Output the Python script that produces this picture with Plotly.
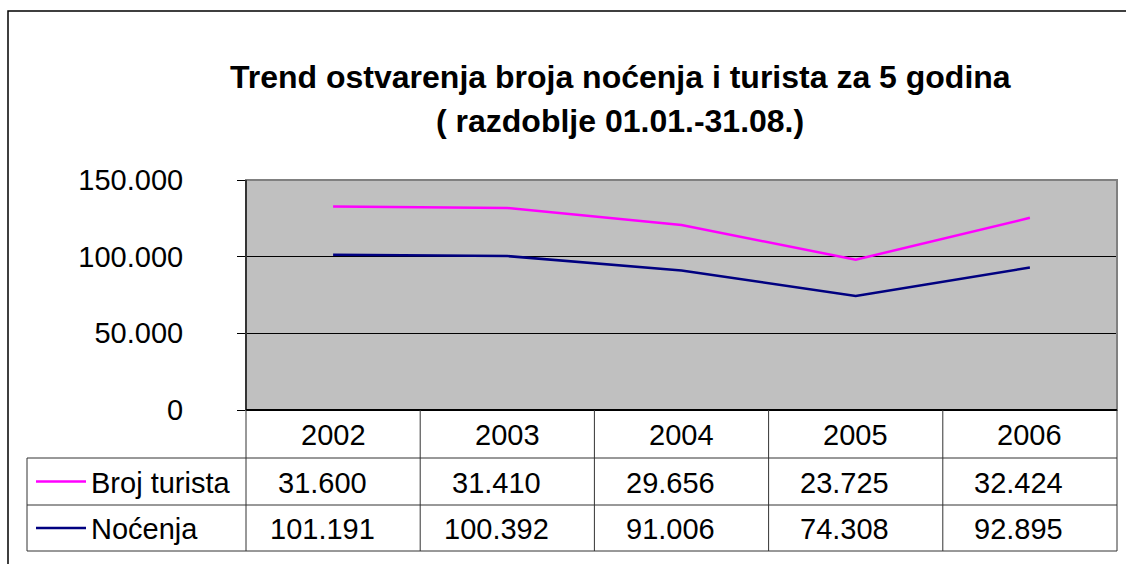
import plotly.graph_objects as go

years = ["2002", "2003", "2004", "2005", "2006"]
nocenja = [101191, 100392, 91006, 74308, 92895]
turisti = [31600, 31410, 29656, 23725, 32424]
series_names = ["Broj turista", "Noćenja"]
title_lines = ["Trend ostvarenja broja noćenja i turista za 5 godina", "( razdoblje 01.01.-31.08.)"]

W, H = 1126, 564
def px(x):
    return x / W
def py(y):
    return 1 - y / H

PL, PR, PT, PB = 246, 1117, 180, 410
FONT = "Liberation Sans, Arial, sans-serif"
PINK = "#FF00FF"
NAVY = "#000080"
FS = 29

fig = go.Figure()
fig.add_trace(go.Scatter(x=years, y=nocenja, name=series_names[1], mode="lines",
                         stackgroup="s", fill="none", line=dict(color=NAVY, width=2.5)))
fig.add_trace(go.Scatter(x=years, y=turisti, name=series_names[0], mode="lines",
                         stackgroup="s", fill="none", line=dict(color=PINK, width=2.5)))

fig.update_layout(
    width=W, height=H, autosize=False,
    margin=dict(l=0, r=0, t=0, b=0, pad=0, autoexpand=False),
    paper_bgcolor="white", plot_bgcolor="#C0C0C0",
    showlegend=False,
    separators=",.",
    font=dict(family=FONT, color="black"),
    xaxis=dict(domain=[px(PL), px(PR)], range=[-0.5, 4.5], type="category",
               showticklabels=False, showgrid=False, zeroline=False, ticks="",
               automargin=False),
    yaxis=dict(domain=[py(PB), py(PT)], range=[0, 150000], dtick=50000,
               tickformat=",d", showgrid=True, gridcolor="black", gridwidth=1,
               zeroline=False, ticks="outside", ticklen=8, tickcolor="black",
               tickfont=dict(size=FS, family=FONT, color="black"),
               ticklabelstandoff=48, showline=False, automargin=False),
)

shapes = []
# outer chart border
shapes.append(dict(type="rect", xref="paper", yref="paper", x0=px(8), x1=px(1140),
                   y0=py(580), y1=py(11), line=dict(color="black", width=1.5)))
# plot area border (gray)
shapes.append(dict(type="rect", xref="paper", yref="paper", x0=px(PL), x1=px(PR),
                   y0=py(PB), y1=py(PT), line=dict(color="#808080", width=2)))
# left axis line black
shapes.append(dict(type="line", xref="paper", yref="paper", x0=px(PL), x1=px(PL),
                   y0=py(PB), y1=py(PT), line=dict(color="black", width=1.2)))

# data table
TL = 27
R0, R1, R2, R3 = 410, 458, 505, 551
colw = (PR - PL) / len(years)
tcol = "#333333"
shapes.append(dict(type="line", xref="paper", yref="paper", x0=px(PL), x1=px(PR),
                   y0=py(R0), y1=py(R0), line=dict(color="black", width=2)))
for r in (R1, R2, R3):
    shapes.append(dict(type="line", xref="paper", yref="paper", x0=px(TL), x1=px(PR),
                       y0=py(r), y1=py(r), line=dict(color=tcol, width=1)))
shapes.append(dict(type="line", xref="paper", yref="paper", x0=px(TL), x1=px(TL),
                   y0=py(R1), y1=py(R3), line=dict(color=tcol, width=1)))
for i in range(len(years) + 1):
    xx = PL + i * colw
    shapes.append(dict(type="line", xref="paper", yref="paper", x0=px(xx), x1=px(xx),
                       y0=py(R0), y1=py(R3), line=dict(color=tcol, width=1)))
# legend keys
for (yc, col) in (((R1 + R2) / 2, PINK), ((R2 + R3) / 2, NAVY)):
    shapes.append(dict(type="line", xref="paper", yref="paper", x0=px(36), x1=px(86),
                       y0=py(yc), y1=py(yc), line=dict(color=col, width=2.5)))

fig.update_layout(shapes=shapes)

def fmt(v):
    return f"{v:,}".replace(",", ".")

ann = []
for txt, yc in ((title_lines[0], 77), (title_lines[1], 121)):
    ann.append(dict(xref="paper", yref="paper", x=px(620), y=py(yc),
                    text="<b>" + txt + "</b>",
                    showarrow=False, font=dict(size=32, family=FONT, color="black"),
                    xanchor="center", yanchor="middle", align="center"))
for i, yr in enumerate(years):
    cx = PL + (i + 0.5) * colw
    ann.append(dict(xref="paper", yref="paper", x=px(cx), y=py((R0 + R1) / 2 + 1), text=yr,
                    showarrow=False, font=dict(size=FS, family=FONT), xanchor="center", yanchor="middle"))
    ann.append(dict(xref="paper", yref="paper", x=px(cx - 11), y=py((R1 + R2) / 2 + 1), text=fmt(turisti[i]),
                    showarrow=False, font=dict(size=FS, family=FONT), xanchor="center", yanchor="middle"))
    ann.append(dict(xref="paper", yref="paper", x=px(cx - 11), y=py((R2 + R3) / 2 + 1), text=fmt(nocenja[i]),
                    showarrow=False, font=dict(size=FS, family=FONT), xanchor="center", yanchor="middle"))
ann.append(dict(xref="paper", yref="paper", x=px(89), y=py((R1 + R2) / 2 + 1), text=series_names[0],
                showarrow=False, font=dict(size=FS, family=FONT), xanchor="left", yanchor="middle"))
ann.append(dict(xref="paper", yref="paper", x=px(89), y=py((R2 + R3) / 2 + 1), text=series_names[1],
                showarrow=False, font=dict(size=FS, family=FONT), xanchor="left", yanchor="middle"))
fig.update_layout(annotations=ann)

fig.write_html("out.html", config={"displayModeBar": False},
               post_script="document.body.style.margin='0';document.body.style.overflow='hidden';")
